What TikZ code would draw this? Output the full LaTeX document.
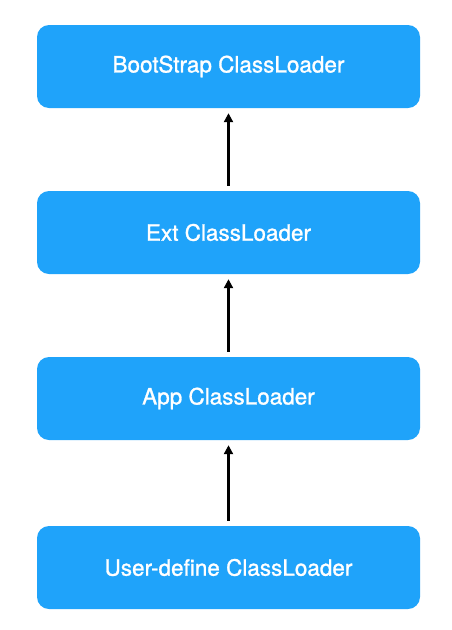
\documentclass[tikz,border=0pt]{standalone}
\usepackage{fontspec}
\setmainfont{TeX Gyre Heros}
\newfontfamily\labelfont[FakeBold=1.2]{TeX Gyre Heros}
\usetikzlibrary{arrows.meta}
\definecolor{boxblue}{HTML}{1FA3FA}
\tikzset{
  loaderbox/.style={fill=boxblue, draw=none, rounded corners=12pt, minimum width=383pt, minimum height=83pt, text=white, font=\labelfont\fontsize{22.5}{25}\selectfont, inner sep=0pt},
  uparrow/.style={-{Triangle[width=9pt,length=9pt]}, line width=2.2pt, black, shorten <=5pt, shorten >=5pt}
}
\begin{document}
\begin{tikzpicture}[x=1pt,y=-1pt]
\useasboundingbox (0,0) rectangle (452,630);
\node[loaderbox] (boot) at (228.5,66.5) {BootStrap ClassLoader};
\node[loaderbox] (ext) at (228.5,232.5) {Ext ClassLoader};
\node[loaderbox] (app) at (228.5,398.5) {App ClassLoader};
\node[loaderbox] (user) at (228.5,567.5) {User-define ClassLoader};
\draw[uparrow] (ext.north) -- (boot.south);
\draw[uparrow] (app.north) -- (ext.south);
\draw[uparrow] (user.north) -- (app.south);
\end{tikzpicture}
\end{document}
